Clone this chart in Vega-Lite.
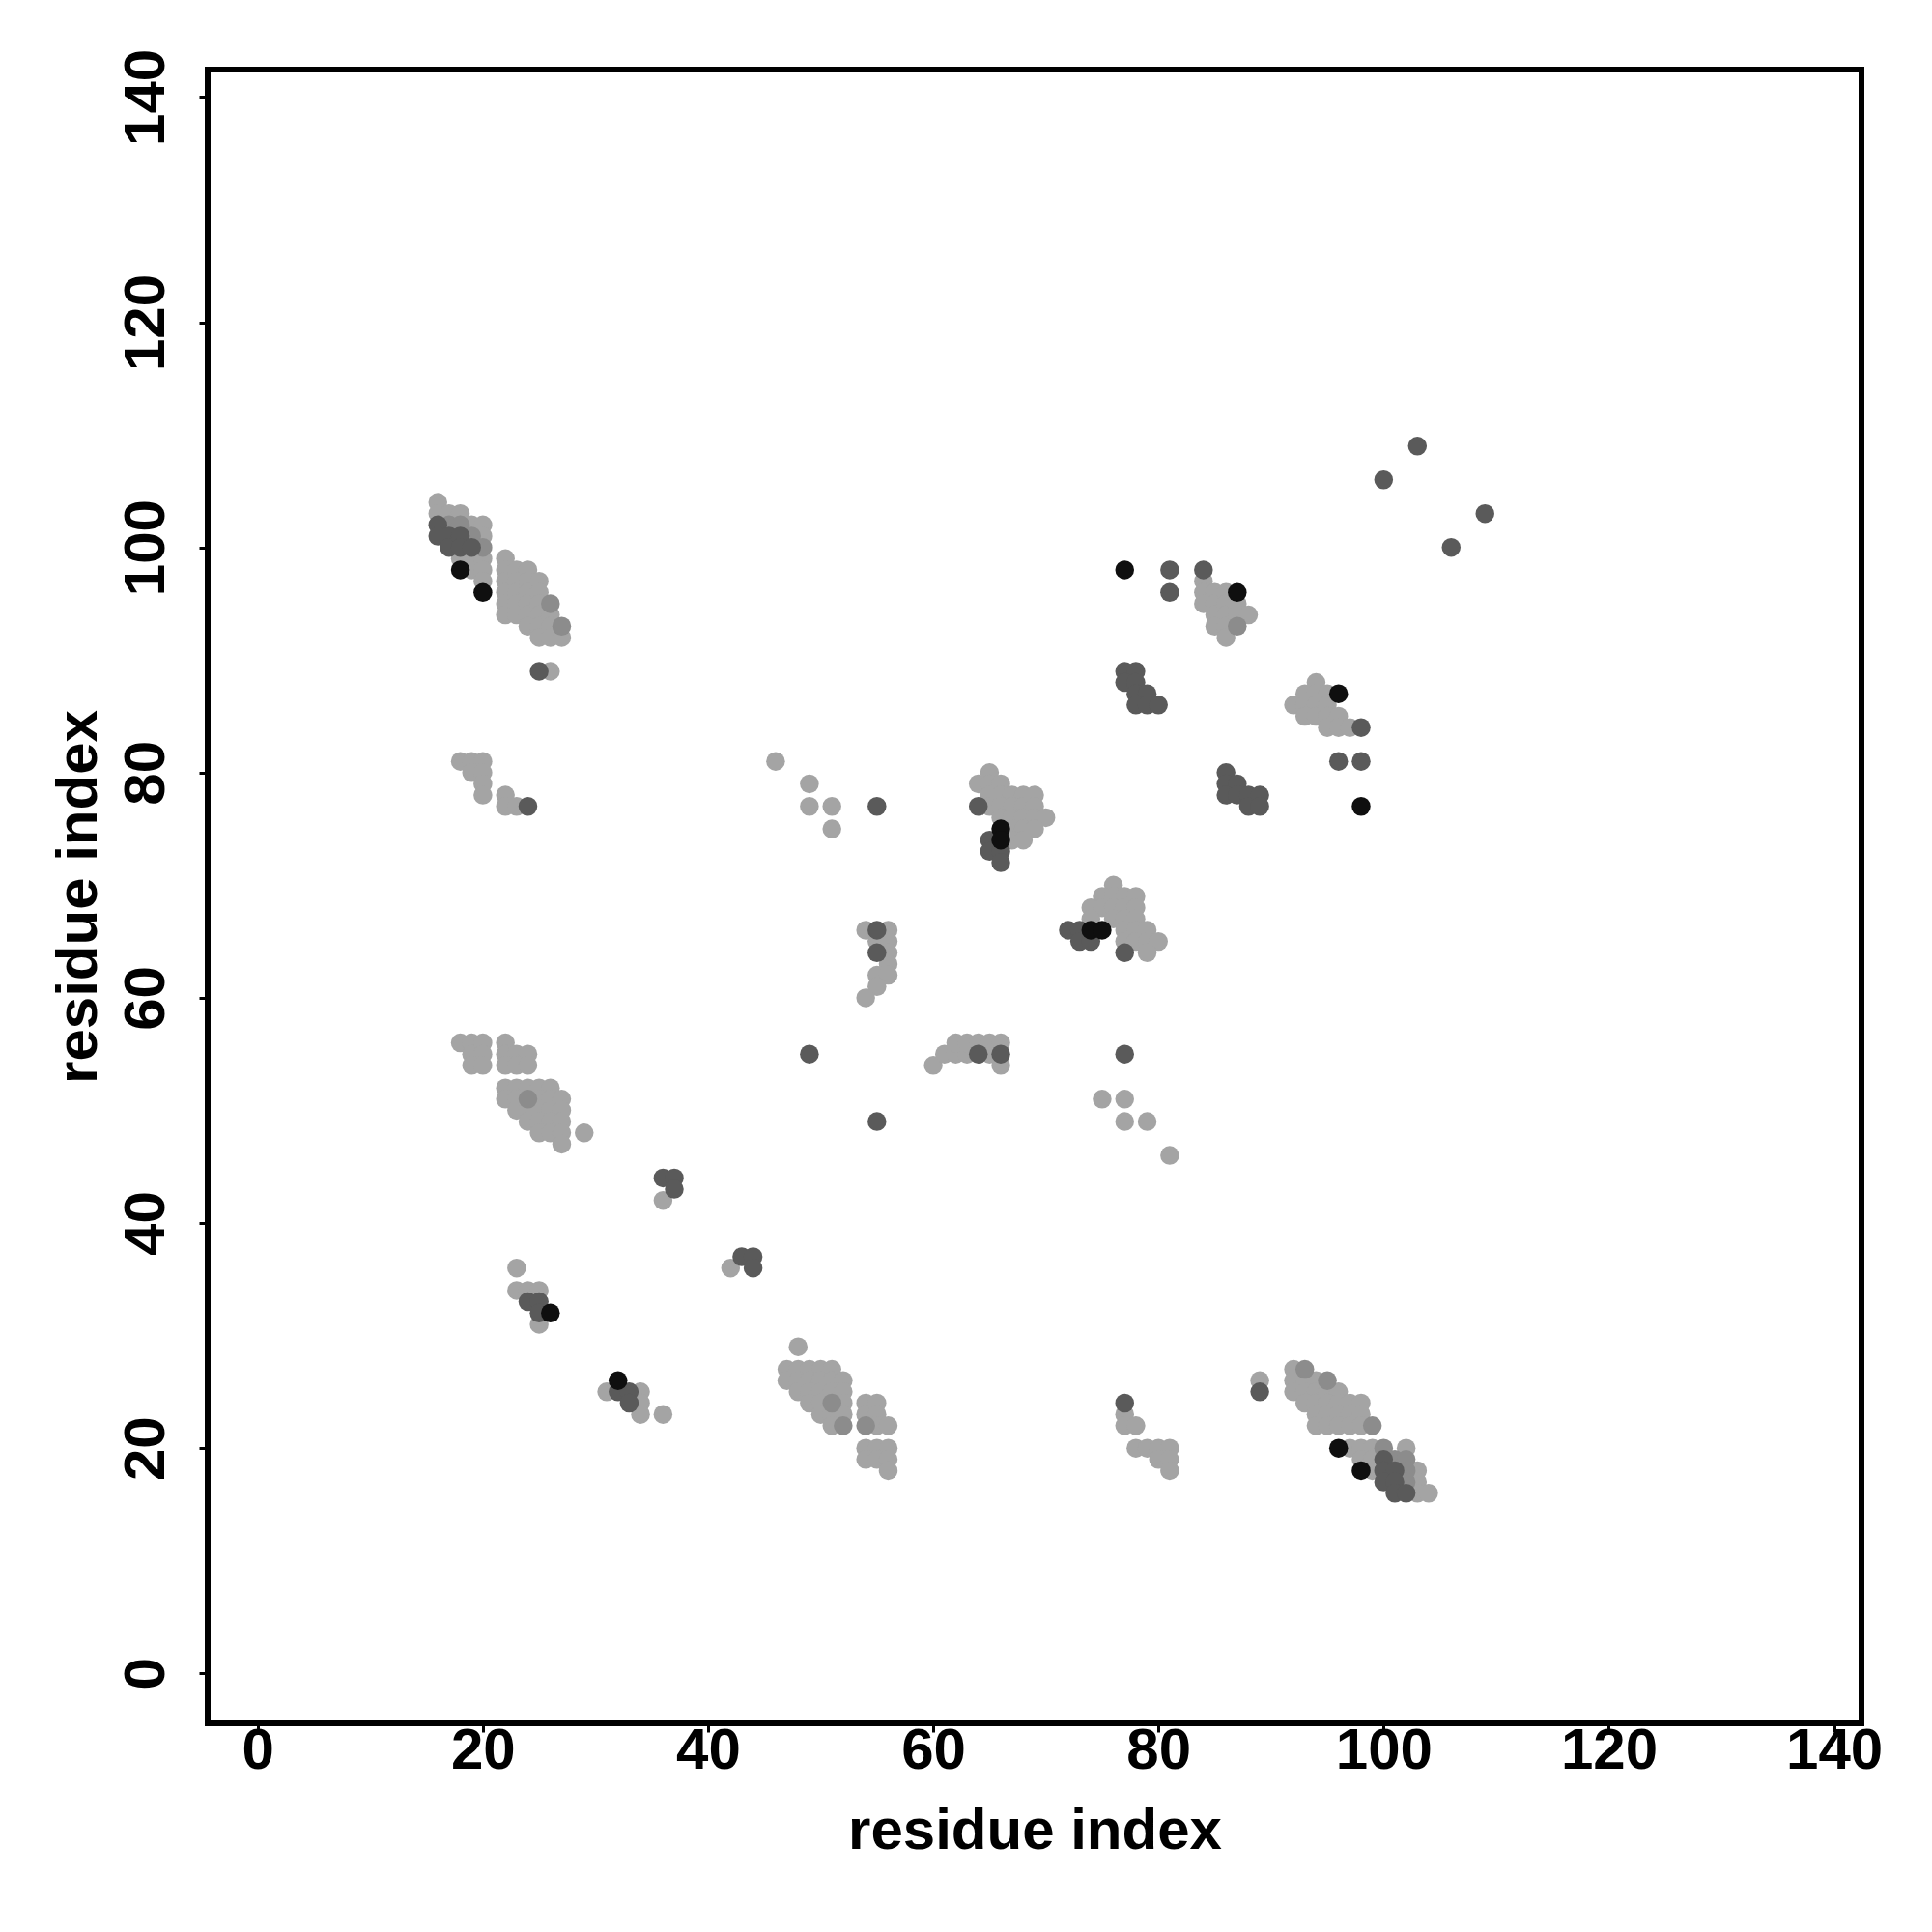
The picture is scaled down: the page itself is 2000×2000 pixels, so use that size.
{
  "$schema": "https://vega.github.io/schema/vega-lite/v6.json",
  "width": 1712,
  "height": 1712,
  "autosize": "none",
  "padding": {"left": 215, "top": 72, "right": 73, "bottom": 216},
  "background": "white",
  "config": {"view": {"stroke": "black", "strokeWidth": 6}, "font": "Liberation Sans"},
  "data": {"values": [
    {"i":16,"j":104,"c":1},{"i":16,"j":103,"c":1},{"i":16,"j":102,"c":3},{"i":16,"j":101,"c":3},
    {"i":17,"j":103,"c":1},{"i":17,"j":102,"c":2},{"i":17,"j":101,"c":3},{"i":17,"j":100,"c":3},
    {"i":18,"j":103,"c":1},{"i":18,"j":102,"c":2},{"i":18,"j":101,"c":3},{"i":18,"j":100,"c":3},{"i":18,"j":99,"c":1},{"i":18,"j":98,"c":4},
    {"i":19,"j":102,"c":1},{"i":19,"j":101,"c":2},{"i":19,"j":100,"c":3},{"i":19,"j":99,"c":1},{"i":19,"j":98,"c":1},
    {"i":20,"j":102,"c":1},{"i":20,"j":101,"c":1},{"i":20,"j":100,"c":2},{"i":20,"j":99,"c":1},{"i":20,"j":98,"c":1},{"i":20,"j":97,"c":1},{"i":20,"j":96,"c":4},
    {"i":22,"j":99,"c":1},{"i":22,"j":98,"c":1},{"i":22,"j":97,"c":1},{"i":22,"j":96,"c":1},{"i":22,"j":95,"c":1},{"i":22,"j":94,"c":1},
    {"i":23,"j":98,"c":1},{"i":23,"j":97,"c":1},{"i":23,"j":96,"c":1},{"i":23,"j":95,"c":1},{"i":23,"j":94,"c":1},
    {"i":24,"j":98,"c":1},{"i":24,"j":97,"c":1},{"i":24,"j":96,"c":1},{"i":24,"j":95,"c":1},{"i":24,"j":94,"c":1},{"i":24,"j":93,"c":1},
    {"i":25,"j":97,"c":1},{"i":25,"j":96,"c":1},{"i":25,"j":95,"c":1},{"i":25,"j":94,"c":1},{"i":25,"j":93,"c":1},{"i":25,"j":92,"c":1},
    {"i":26,"j":95,"c":2},{"i":26,"j":94,"c":1},{"i":26,"j":93,"c":1},{"i":26,"j":92,"c":1},
    {"i":27,"j":93,"c":2},{"i":27,"j":92,"c":1},
    {"i":25,"j":89,"c":3},{"i":26,"j":89,"c":1},
    {"i":18,"j":81,"c":1},{"i":19,"j":81,"c":1},{"i":20,"j":81,"c":1},{"i":19,"j":80,"c":1},{"i":20,"j":80,"c":1},{"i":20,"j":79,"c":1},{"i":20,"j":78,"c":1},
    {"i":22,"j":78,"c":1},{"i":22,"j":77,"c":1},{"i":23,"j":77,"c":1},{"i":24,"j":77,"c":3},
    {"i":46,"j":81,"c":1},{"i":49,"j":79,"c":1},{"i":49,"j":77,"c":1},{"i":51,"j":77,"c":1},{"i":51,"j":75,"c":1},{"i":55,"j":77,"c":3},
    {"i":18,"j":56,"c":1},{"i":19,"j":56,"c":1},{"i":20,"j":56,"c":1},{"i":19,"j":55,"c":1},{"i":20,"j":55,"c":1},{"i":19,"j":54,"c":1},{"i":20,"j":54,"c":1},
    {"i":22,"j":56,"c":1},{"i":22,"j":55,"c":1},{"i":23,"j":55,"c":1},{"i":24,"j":55,"c":1},{"i":22,"j":54,"c":1},{"i":23,"j":54,"c":1},{"i":24,"j":54,"c":1},
    {"i":22,"j":52,"c":1},{"i":23,"j":52,"c":1},{"i":24,"j":52,"c":1},{"i":25,"j":52,"c":1},{"i":26,"j":52,"c":1},
    {"i":22,"j":51,"c":1},{"i":23,"j":51,"c":1},{"i":24,"j":51,"c":2},{"i":25,"j":51,"c":1},{"i":26,"j":51,"c":1},{"i":27,"j":51,"c":1},
    {"i":23,"j":50,"c":1},{"i":24,"j":50,"c":1},{"i":25,"j":50,"c":1},{"i":26,"j":50,"c":1},{"i":27,"j":50,"c":1},
    {"i":24,"j":49,"c":1},{"i":25,"j":49,"c":1},{"i":26,"j":49,"c":1},{"i":27,"j":49,"c":1},
    {"i":25,"j":48,"c":1},{"i":26,"j":48,"c":1},{"i":27,"j":48,"c":1},{"i":29,"j":48,"c":1},{"i":27,"j":47,"c":1},
    {"i":36,"j":44,"c":3},{"i":37,"j":44,"c":3},{"i":37,"j":43,"c":3},{"i":36,"j":42,"c":1},
    {"i":42,"j":36,"c":1},{"i":43,"j":37,"c":3},{"i":44,"j":37,"c":3},{"i":44,"j":36,"c":3},
    {"i":23,"j":36,"c":1},{"i":23,"j":34,"c":1},{"i":24,"j":34,"c":1},{"i":25,"j":34,"c":1},{"i":24,"j":33,"c":3},{"i":25,"j":33,"c":3},{"i":25,"j":32,"c":3},{"i":26,"j":32,"c":4},{"i":25,"j":31,"c":1},
    {"i":31,"j":25,"c":1},{"i":32,"j":26,"c":4},{"i":32,"j":25,"c":3},{"i":33,"j":25,"c":3},{"i":33,"j":24,"c":3},{"i":34,"j":25,"c":1},{"i":34,"j":24,"c":1},{"i":34,"j":23,"c":1},{"i":36,"j":23,"c":1},
    {"i":48,"j":29,"c":1},
    {"i":47,"j":27,"c":1},{"i":48,"j":27,"c":1},{"i":49,"j":27,"c":1},{"i":50,"j":27,"c":1},{"i":51,"j":27,"c":1},
    {"i":47,"j":26,"c":1},{"i":48,"j":26,"c":1},{"i":49,"j":26,"c":1},{"i":50,"j":26,"c":1},{"i":51,"j":26,"c":1},{"i":52,"j":26,"c":1},
    {"i":48,"j":25,"c":1},{"i":49,"j":25,"c":1},{"i":50,"j":25,"c":1},{"i":51,"j":25,"c":1},{"i":52,"j":25,"c":1},
    {"i":49,"j":24,"c":1},{"i":50,"j":24,"c":1},{"i":51,"j":24,"c":2},{"i":52,"j":24,"c":1},
    {"i":50,"j":23,"c":1},{"i":51,"j":23,"c":1},{"i":52,"j":23,"c":1},
    {"i":51,"j":22,"c":1},{"i":52,"j":22,"c":2},
    {"i":54,"j":24,"c":1},{"i":55,"j":24,"c":1},{"i":54,"j":23,"c":1},{"i":55,"j":23,"c":1},{"i":54,"j":22,"c":2},{"i":55,"j":22,"c":1},{"i":56,"j":22,"c":1},
    {"i":54,"j":20,"c":1},{"i":55,"j":20,"c":1},{"i":56,"j":20,"c":1},{"i":54,"j":19,"c":1},{"i":55,"j":19,"c":1},{"i":56,"j":19,"c":1},{"i":56,"j":18,"c":1},
    {"i":64,"j":77,"c":3},{"i":65,"j":80,"c":1},{"i":64,"j":79,"c":1},{"i":65,"j":79,"c":1},{"i":66,"j":79,"c":1},
    {"i":65,"j":78,"c":1},{"i":66,"j":78,"c":1},{"i":67,"j":78,"c":1},{"i":68,"j":78,"c":1},{"i":69,"j":78,"c":1},
    {"i":65,"j":77,"c":1},{"i":66,"j":77,"c":1},{"i":67,"j":77,"c":1},{"i":68,"j":77,"c":1},{"i":69,"j":77,"c":1},
    {"i":66,"j":76,"c":1},{"i":67,"j":76,"c":1},{"i":68,"j":76,"c":1},{"i":69,"j":76,"c":1},{"i":70,"j":76,"c":1},
    {"i":67,"j":75,"c":1},{"i":68,"j":75,"c":1},{"i":69,"j":75,"c":1},{"i":67,"j":74,"c":1},{"i":68,"j":74,"c":1},
    {"i":65,"j":74,"c":3},{"i":65,"j":73,"c":3},{"i":66,"j":73,"c":3},{"i":66,"j":72,"c":3},{"i":66,"j":75,"c":4},{"i":66,"j":74,"c":4},
    {"i":54,"j":66,"c":1},{"i":55,"j":66,"c":3},{"i":56,"j":66,"c":1},{"i":55,"j":65,"c":1},{"i":56,"j":65,"c":1},{"i":55,"j":64,"c":3},{"i":56,"j":64,"c":1},
    {"i":56,"j":63,"c":1},{"i":55,"j":62,"c":1},{"i":56,"j":62,"c":1},{"i":55,"j":61,"c":1},{"i":54,"j":60,"c":1},
    {"i":49,"j":55,"c":3},{"i":55,"j":49,"c":3},
    {"i":60,"j":54,"c":1},{"i":61,"j":55,"c":1},{"i":62,"j":55,"c":1},{"i":63,"j":55,"c":1},{"i":62,"j":56,"c":1},{"i":63,"j":56,"c":1},{"i":64,"j":56,"c":1},{"i":65,"j":56,"c":1},{"i":66,"j":56,"c":1},
    {"i":64,"j":55,"c":3},{"i":65,"j":55,"c":1},{"i":66,"j":55,"c":3},{"i":66,"j":54,"c":1},
    {"i":76,"j":70,"c":1},{"i":75,"j":69,"c":1},{"i":76,"j":69,"c":1},{"i":77,"j":69,"c":1},{"i":78,"j":69,"c":1},
    {"i":74,"j":68,"c":1},{"i":75,"j":68,"c":1},{"i":76,"j":68,"c":1},{"i":77,"j":68,"c":1},{"i":78,"j":68,"c":1},
    {"i":74,"j":67,"c":1},{"i":76,"j":67,"c":1},{"i":77,"j":67,"c":1},{"i":78,"j":67,"c":1},
    {"i":72,"j":66,"c":3},{"i":73,"j":66,"c":3},{"i":74,"j":66,"c":4},{"i":75,"j":66,"c":4},{"i":77,"j":66,"c":1},{"i":78,"j":66,"c":1},{"i":79,"j":66,"c":1},
    {"i":73,"j":65,"c":3},{"i":74,"j":65,"c":3},{"i":77,"j":65,"c":1},{"i":78,"j":65,"c":1},{"i":79,"j":65,"c":1},{"i":80,"j":65,"c":1},
    {"i":77,"j":64,"c":3},{"i":79,"j":64,"c":1},
    {"i":77,"j":55,"c":3},{"i":75,"j":51,"c":1},{"i":77,"j":51,"c":1},{"i":77,"j":49,"c":1},{"i":79,"j":49,"c":1},{"i":81,"j":46,"c":1},
    {"i":77,"j":98,"c":4},{"i":81,"j":98,"c":3},{"i":81,"j":96,"c":3},{"i":84,"j":98,"c":3},{"i":87,"j":96,"c":4},
    {"i":84,"j":97,"c":1},{"i":84,"j":96,"c":1},{"i":84,"j":95,"c":1},{"i":85,"j":96,"c":1},{"i":85,"j":95,"c":1},{"i":85,"j":94,"c":1},{"i":85,"j":93,"c":1},
    {"i":86,"j":96,"c":1},{"i":86,"j":95,"c":1},{"i":86,"j":94,"c":1},{"i":86,"j":93,"c":1},{"i":86,"j":92,"c":1},
    {"i":87,"j":95,"c":1},{"i":87,"j":94,"c":1},{"i":87,"j":93,"c":2},{"i":88,"j":94,"c":1},
    {"i":77,"j":89,"c":3},{"i":78,"j":89,"c":3},{"i":77,"j":88,"c":3},{"i":78,"j":88,"c":3},{"i":78,"j":87,"c":3},{"i":79,"j":87,"c":3},{"i":78,"j":86,"c":3},{"i":79,"j":86,"c":3},{"i":80,"j":86,"c":3},
    {"i":86,"j":80,"c":3},{"i":86,"j":79,"c":3},{"i":87,"j":79,"c":3},{"i":86,"j":78,"c":3},{"i":87,"j":78,"c":3},{"i":88,"j":78,"c":3},{"i":88,"j":77,"c":3},{"i":89,"j":78,"c":3},{"i":89,"j":77,"c":3},
    {"i":103,"j":109,"c":3},{"i":100,"j":106,"c":3},{"i":109,"j":103,"c":3},{"i":106,"j":100,"c":3},
    {"i":96,"j":87,"c":4},{"i":98,"j":84,"c":3},{"i":96,"j":81,"c":3},{"i":98,"j":81,"c":3},{"i":98,"j":77,"c":4},
    {"i":94,"j":88,"c":1},{"i":93,"j":87,"c":1},{"i":94,"j":87,"c":1},{"i":95,"j":87,"c":1},
    {"i":92,"j":86,"c":1},{"i":93,"j":86,"c":1},{"i":94,"j":86,"c":1},{"i":95,"j":86,"c":1},
    {"i":93,"j":85,"c":1},{"i":94,"j":85,"c":1},{"i":95,"j":85,"c":1},{"i":96,"j":85,"c":1},
    {"i":95,"j":84,"c":1},{"i":96,"j":84,"c":1},{"i":97,"j":84,"c":1},
    {"i":77,"j":24,"c":3},{"i":77,"j":23,"c":1},{"i":77,"j":22,"c":1},{"i":78,"j":22,"c":1},
    {"i":78,"j":20,"c":1},{"i":79,"j":20,"c":1},{"i":80,"j":20,"c":1},{"i":81,"j":20,"c":1},{"i":80,"j":19,"c":1},{"i":81,"j":19,"c":1},{"i":81,"j":18,"c":1},
    {"i":89,"j":26,"c":1},{"i":89,"j":25,"c":3},
    {"i":92,"j":27,"c":1},{"i":93,"j":27,"c":2},
    {"i":92,"j":26,"c":1},{"i":93,"j":26,"c":1},{"i":94,"j":26,"c":1},{"i":95,"j":26,"c":2},
    {"i":92,"j":25,"c":1},{"i":93,"j":25,"c":1},{"i":94,"j":25,"c":1},{"i":95,"j":25,"c":1},{"i":96,"j":25,"c":1},
    {"i":93,"j":24,"c":1},{"i":94,"j":24,"c":1},{"i":95,"j":24,"c":1},{"i":96,"j":24,"c":1},{"i":97,"j":24,"c":1},{"i":98,"j":24,"c":1},
    {"i":94,"j":23,"c":1},{"i":95,"j":23,"c":1},{"i":96,"j":23,"c":1},{"i":97,"j":23,"c":1},{"i":98,"j":23,"c":1},
    {"i":94,"j":22,"c":1},{"i":95,"j":22,"c":1},{"i":96,"j":22,"c":1},{"i":97,"j":22,"c":1},{"i":98,"j":22,"c":1},{"i":99,"j":22,"c":2},
    {"i":96,"j":20,"c":4},{"i":97,"j":20,"c":1},{"i":98,"j":20,"c":1},{"i":99,"j":20,"c":1},{"i":100,"j":20,"c":2},{"i":102,"j":20,"c":1},
    {"i":98,"j":19,"c":1},{"i":99,"j":19,"c":1},{"i":100,"j":19,"c":3},{"i":101,"j":19,"c":2},{"i":102,"j":19,"c":2},
    {"i":98,"j":18,"c":4},{"i":99,"j":18,"c":1},{"i":100,"j":18,"c":3},{"i":101,"j":18,"c":3},{"i":102,"j":18,"c":2},{"i":103,"j":18,"c":1},
    {"i":100,"j":17,"c":3},{"i":101,"j":17,"c":3},{"i":102,"j":17,"c":2},{"i":103,"j":17,"c":1},
    {"i":101,"j":16,"c":3},{"i":102,"j":16,"c":3},{"i":103,"j":16,"c":1},{"i":104,"j":16,"c":1}
  ]},
  "mark": {"type": "circle", "size": 380, "opacity": 1},
  "encoding": {
    "x": {
      "field": "i", "type": "quantitative",
      "scale": {"domain": [-4.44, 142.44], "nice": false, "zero": false},
      "axis": {
        "title": "residue index", "values": [0, 20, 40, 60, 80, 100, 120, 140],
        "domain": false, "grid": false, "tickSize": 9, "tickWidth": 3, "tickColor": "black",
        "labelFont": "Liberation Sans", "labelFontWeight": "bold", "labelFontSize": 60, "labelColor": "black",
        "labelBaseline": "alphabetic", "labelPadding": 37, "labelFlush": false, "labelOverlap": false,
        "titleFont": "Liberation Sans", "titleFontWeight": "bold", "titleFontSize": 60, "titleColor": "black",
        "titleBaseline": "alphabetic", "titleY": 129, "titleX": 856, "titleAlign": "center"
      }
    },
    "y": {
      "field": "j", "type": "quantitative",
      "scale": {"domain": [-4.44, 142.44], "nice": false, "zero": false},
      "axis": {
        "title": "residue index", "values": [0, 20, 40, 60, 80, 100, 120, 140],
        "domain": false, "grid": false, "tickSize": 9, "tickWidth": 3, "tickColor": "black",
        "labelFont": "Liberation Sans", "labelFontWeight": "bold", "labelFontSize": 60, "labelColor": "black",
        "labelAngle": 270, "labelAlign": "center", "labelBaseline": "alphabetic", "labelPadding": 37, "labelFlush": false, "labelOverlap": false,
        "titleFont": "Liberation Sans", "titleFontWeight": "bold", "titleFontSize": 60, "titleColor": "black",
        "titleAngle": 270, "titleBaseline": "alphabetic", "titleX": -116, "titleY": 856, "titleAlign": "center"
      }
    },
    "color": {
      "field": "c", "type": "ordinal",
      "scale": {"domain": [1, 2, 3, 4], "range": ["#a4a4a4", "#8c8c8c", "#5a5a5a", "#0f0f0f"]},
      "legend": null
    },
    "order": {"field": "c", "type": "quantitative"}
  }
}
